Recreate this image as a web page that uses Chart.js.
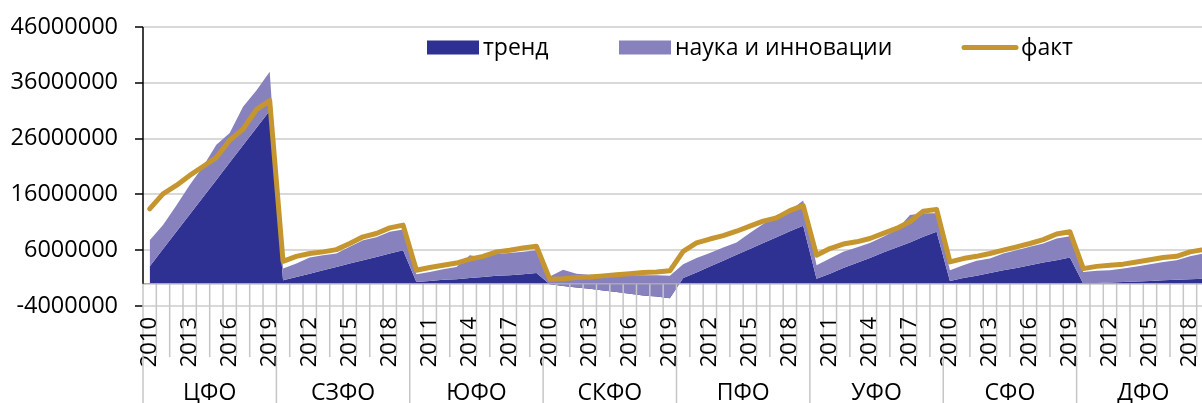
<!DOCTYPE html>
<html lang="ru">
<head>
<meta charset="utf-8">
<title>Тренд, наука и инновации, факт по федеральным округам</title>
<script src="https://cdn.jsdelivr.net/npm/chart.js@4.4.0/dist/chart.umd.min.js"></script>
<style>
  html, body { margin: 0; padding: 0; background: #fff; overflow: hidden; }
  .chart-box { width: 1212px; height: 403px; }
</style>
</head>
<body>
<div class="chart-box"><canvas id="chart"></canvas></div>
<script>
const districts = ["ЦФО", "СЗФО", "ЮФО", "СКФО", "ПФО", "УФО", "СФО", "ДФО"];
const years = [2010, 2011, 2012, 2013, 2014, 2015, 2016, 2017, 2018, 2019];
const yTicks = [-4000000, 6000000, 16000000, 26000000, 36000000, 46000000];

// one row per district, 2010..2019
const trend = [
  3100000, 6200000, 9300000, 12400000, 15500000, 18600000, 21700000, 24800000, 27900000, 31000000,
  600000, 1200000, 1800000, 2400000, 3000000, 3600000, 4200000, 4800000, 5400000, 6000000,
  300000, 500000, 700000, 800000, 1000000, 1200000, 1400000, 1500000, 1700000, 1900000,
  -100000, -400000, -700000, -900000, -1200000, -1500000, -1800000, -2100000, -2300000, -2600000,
  1000000, 2000000, 3100000, 4100000, 5200000, 6200000, 7300000, 8300000, 9400000, 10400000,
  900000, 1800000, 2800000, 3700000, 4600000, 5600000, 6500000, 7400000, 8400000, 9300000,
  500000, 1000000, 1400000, 1900000, 2400000, 2800000, 3300000, 3800000, 4200000, 4700000,
  0, 100000, 200000, 300000, 400000, 500000, 600000, 700000, 800000, 900000
];
const science = [
  4700000, 4300000, 4700000, 5300000, 5500000, 6300000, 5300000, 6900000, 6700000, 7000000,
  2100000, 2400000, 2900000, 2700000, 2400000, 3000000, 3600000, 3500000, 3900000, 3700000,
  1400000, 1600000, 1900000, 2200000, 4100000, 3500000, 3900000, 4000000, 4000000, 4100000,
  1400000, 2900000, 2500000, 2500000, 2700000, 3000000, 3300000, 3600000, 3800000, 4000000,
  2500000, 2600000, 2400000, 2400000, 2200000, 2900000, 3400000, 4000000, 3700000, 4500000,
  2400000, 2700000, 2900000, 2800000, 2700000, 2800000, 3100000, 4900000, 4200000, 3300000,
  1900000, 2300000, 2700000, 2600000, 3000000, 3200000, 3300000, 3400000, 3900000, 3800000,
  2100000, 2200000, 2200000, 2400000, 2700000, 3000000, 3300000, 3500000, 4100000, 4500000
];
const fact = [
  13400000, 16100000, 17600000, 19400000, 21000000, 22600000, 25700000, 27700000, 31200000, 32800000,
  4000000, 4900000, 5400000, 5700000, 6100000, 7200000, 8400000, 9000000, 10000000, 10500000,
  2400000, 2900000, 3300000, 3700000, 4400000, 4900000, 5700000, 6000000, 6400000, 6700000,
  800000, 900000, 1100000, 1200000, 1400000, 1600000, 1800000, 2000000, 2100000, 2300000,
  5800000, 7300000, 8000000, 8600000, 9400000, 10300000, 11200000, 11800000, 13100000, 14000000,
  5100000, 6300000, 7100000, 7500000, 8100000, 9000000, 9900000, 11100000, 13000000, 13300000,
  3900000, 4500000, 4900000, 5400000, 6000000, 6600000, 7200000, 7900000, 8900000, 9300000,
  2700000, 3100000, 3300000, 3500000, 3900000, 4300000, 4700000, 4900000, 5700000, 6100000
];

const colors = { trend: "#2E3192", science: "#8782BE", fact: "#C59630" };
const FONT = "'Open Sans', 'Liberation Sans', sans-serif";

const labels = districts.flatMap(() => years.map(String));
// science is stacked on top of trend, like the original area chart
const scienceTop = science.map((v, i) => v + trend[i]);

const decor = {
  id: "decor",
  afterDatasetsDraw(chart) {
    const { ctx, chartArea, scales: { x, y } } = chart;
    const zeroY = y.getPixelForValue(0);
    const step = x.getPixelForValue(1) - x.getPixelForValue(0);
    const first = x.getPixelForValue(0) - step / 2;
    ctx.save();
    // category ticks under the zero line
    ctx.strokeStyle = "#c6c6c6";
    ctx.lineWidth = 1.5;
    ctx.beginPath();
    for (let i = 0; i <= labels.length; i++) {
      ctx.moveTo(first + i * step, zeroY);
      ctx.lineTo(first + i * step, 357);
    }
    ctx.stroke();
    // horizontal axis at zero
    ctx.strokeStyle = "#ababab";
    ctx.beginPath();
    ctx.moveTo(chartArea.left, zeroY);
    ctx.lineTo(chartArea.right, zeroY);
    ctx.stroke();
    // value axis
    ctx.strokeStyle = "#000";
    ctx.lineWidth = 1.5;
    ctx.beginPath();
    ctx.moveTo(chartArea.left, chartArea.top);
    ctx.lineTo(chartArea.left, zeroY);
    ctx.stroke();
    ctx.restore();
  },
  afterDraw(chart) {
    const { ctx, scales: { x } } = chart;
    const step = x.getPixelForValue(1) - x.getPixelForValue(0);
    ctx.save();
    // district separators and names
    ctx.strokeStyle = "#c6c6c6";
    ctx.lineWidth = 1.5;
    ctx.fillStyle = "#000";
    ctx.font = "23px " + FONT;
    ctx.textAlign = "center";
    ctx.textBaseline = "alphabetic";
    districts.forEach((d, k) => {
      const a = x.getPixelForValue(k * years.length);
      const b = x.getPixelForValue(k * years.length + years.length - 1);
      ctx.beginPath();
      ctx.moveTo(a - step / 2, 357);
      ctx.lineTo(a - step / 2, 403);
      ctx.stroke();
      ctx.fillText(d, (a + b) / 2, 400);
    });

    // legend inside the plot
    const items = chart.data.datasets;
    const pos = [427, 619, 964];
    ctx.textAlign = "left";
    items.forEach((ds, i) => {
      const x0 = pos[i];
      if (ds.fill === false) {
        ctx.strokeStyle = ds.borderColor;
        ctx.lineWidth = 5;
        ctx.lineCap = "round";
        ctx.beginPath();
        ctx.moveTo(x0, 47.5);
        ctx.lineTo(x0 + 52, 47.5);
        ctx.stroke();
        ctx.fillStyle = "#000";
        ctx.fillText(ds.label, x0 + 57, 55);
      } else {
        ctx.fillStyle = ds.backgroundColor;
        ctx.fillRect(x0, 40.5, 52, 14);
        ctx.fillStyle = "#000";
        ctx.fillText(ds.label, x0 + 56, 55);
      }
    });
    ctx.restore();
  }
};

new Chart(document.getElementById("chart"), {
  type: "line",
  data: {
    labels: labels,
    datasets: [
      {
        label: "тренд",
        data: trend,
        order: 3,
        fill: "origin",
        backgroundColor: colors.trend,
        borderWidth: 0,
        pointRadius: 0
      },
      {
        label: "наука и инновации",
        data: scienceTop,
        order: 2,
        fill: 0,
        backgroundColor: colors.science,
        borderWidth: 0,
        pointRadius: 0
      },
      {
        label: "факт",
        data: fact,
        order: 1,
        fill: false,
        borderColor: colors.fact,
        borderWidth: 5,
        borderCapStyle: "round",
        borderJoinStyle: "round",
        pointRadius: 0
      }
    ]
  },
  options: {
    responsive: true,
    maintainAspectRatio: false,
    animation: false,
    layout: { padding: { top: 27, right: 2, bottom: 0, left: 0 } },
    plugins: {
      legend: { display: false },
      tooltip: { enabled: false }
    },
    scales: {
      x: {
        type: "category",
        offset: true,
        grid: { display: false, drawTicks: false },
        border: { display: false },
        ticks: {
          autoSkip: false,
          minRotation: 90,
          maxRotation: 90,
          padding: 11,
          z: 1,
          color: "#000",
          font: { family: FONT, size: 22 },
          callback: function (value, index) {
            return index % 3 === 0 ? this.getLabelForValue(value) : "";
          }
        },
        afterFit(scale) {
          scale.height = 97;
          scale.paddingLeft = 0;
          scale.paddingRight = 0;
        }
      },
      y: {
        min: yTicks[0],
        max: yTicks[yTicks.length - 1],
        afterBuildTicks(scale) {
          scale.ticks = yTicks.map((v) => ({ value: v }));
        },
        ticks: {
          padding: 17,
          color: "#000",
          font: { family: FONT, size: 23.5 },
          callback: (v) => String(v)
        },
        grid: { color: "#d9d9d9", lineWidth: 2, tickColor: "#000", tickLength: 8, tickWidth: 1.5 },
        border: { display: false },
        afterFit(scale) {
          scale.width = 143;
          scale.paddingTop = 0;
          scale.paddingBottom = 0;
        }
      }
    }
  },
  plugins: [decor]
});
</script>
</body>
</html>
